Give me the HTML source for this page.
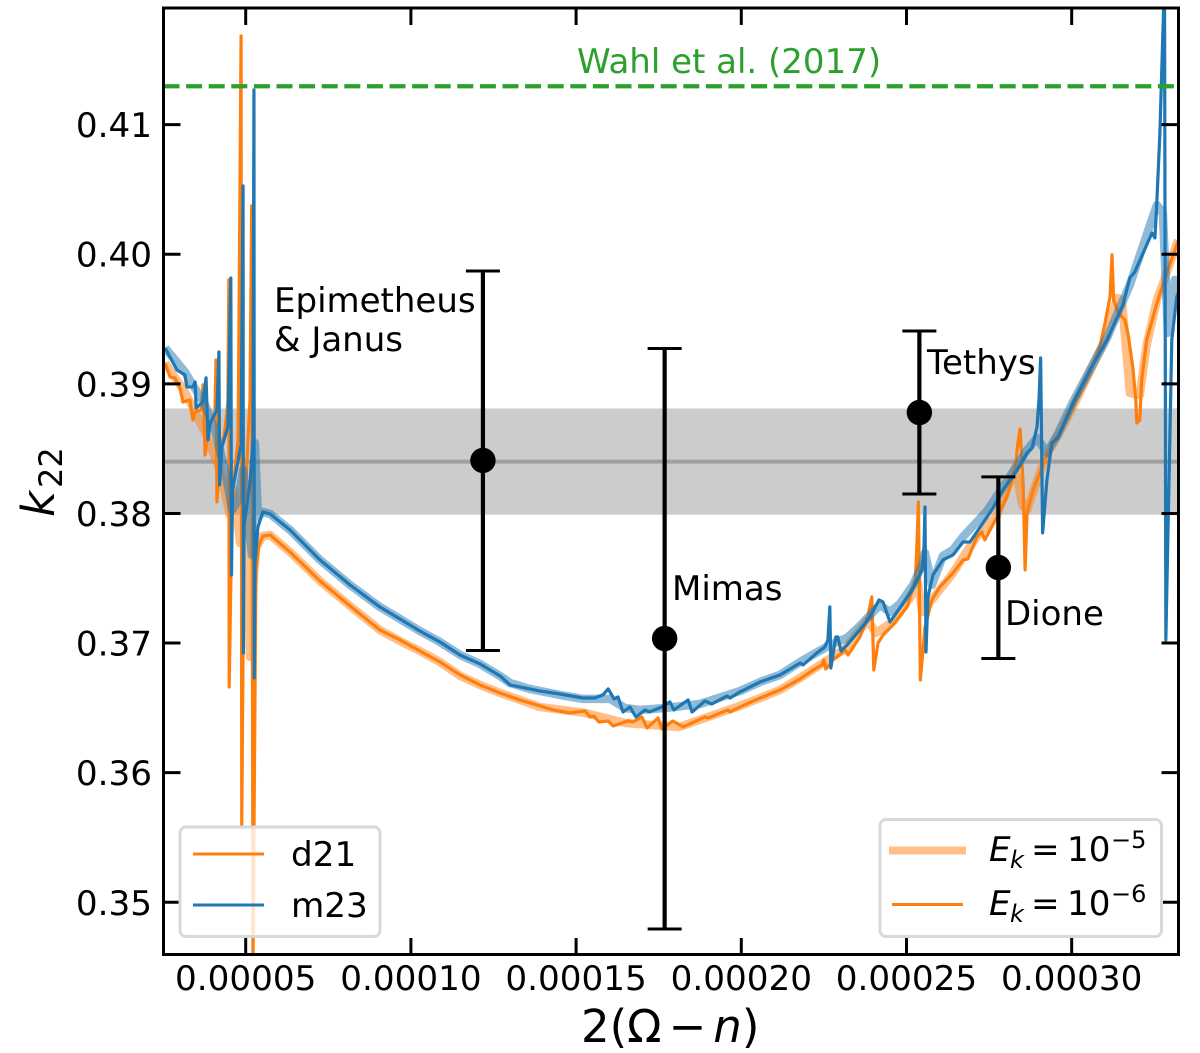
<!DOCTYPE html>
<html lang="en">
<head>
<meta charset="utf-8">
<title>k22 versus 2(Omega - n)</title>
<style>
  html, body { margin: 0; padding: 0; background: #ffffff; }
  #chart-root { width: 1200px; height: 1053px; display: block; }
  text { font-family: "DejaVu Sans", "Liberation Sans", sans-serif; fill: #000; }
</style>
</head>
<body>
<svg id="chart-root" xmlns="http://www.w3.org/2000/svg" width="1200" height="1053" viewBox="0 0 1200 1053">
  <defs>
    <clipPath id="plot-clip"><rect x="163.5" y="8" width="1015" height="946.5"></rect></clipPath>
  </defs>
  <rect x="0" y="0" width="1200" height="1053" fill="#ffffff"></rect>
  <g id="plot-layer" clip-path="url(#plot-clip)"></g>
  <g id="axes-layer"></g>
  <g id="annotation-layer"></g>

  <text x="581" y="1042" font-size="45">2(Ω<tspan dx="7">−</tspan><tspan dx="7" font-style="italic">n</tspan>)</text>
  <g transform="translate(54,517) rotate(-90)">
    <text x="0" y="0" font-size="45" font-style="italic">k</text>
    <text x="29" y="8" font-size="32">22</text>
  </g>

  <g>
    <rect x="180" y="827" width="200" height="109.5" rx="6" ry="6" fill="#ffffff" fill-opacity="0.8" stroke="#d9d9d9" stroke-width="3"></rect>
    <line x1="193" y1="854" x2="264" y2="854" stroke="#ff7f0e" stroke-width="3"></line>
    <text x="291" y="866" font-size="34.2">d21</text>
    <line x1="193" y1="905" x2="264" y2="905" stroke="#1f77b4" stroke-width="3"></line>
    <text x="291" y="917" font-size="34.2">m23</text>
  </g>

  <g>
    <rect x="880" y="819.5" width="281.5" height="117" rx="6" ry="6" fill="#ffffff" fill-opacity="0.8" stroke="#d9d9d9" stroke-width="3"></rect>
    <line x1="889" y1="850.5" x2="966" y2="850.5" stroke="#ff7f0e" stroke-opacity="0.5" stroke-width="8"></line>
    <g>
      <text x="989" y="861" font-size="34.2" font-style="italic">E</text>
      <text x="1010" y="868" font-size="24" font-style="italic">k</text>
      <text x="1031" y="861" font-size="34.2">=</text>
      <text x="1067" y="861" font-size="34.2">10</text>
      <text x="1111" y="848" font-size="24">−5</text>
    </g>
    <line x1="892" y1="904.5" x2="963" y2="904.5" stroke="#ff7f0e" stroke-width="3"></line>
    <g>
      <text x="989" y="915" font-size="34.2" font-style="italic">E</text>
      <text x="1010" y="922" font-size="24" font-style="italic">k</text>
      <text x="1031" y="915" font-size="34.2">=</text>
      <text x="1067" y="915" font-size="34.2">10</text>
      <text x="1111" y="902" font-size="24">−6</text>
    </g>
  </g>
</svg>
<script>
// X values are in units of 1e-5; k22 values are in units of 0.01.
const xTickValues = [5, 10, 15, 20, 25, 30];
const xTickLabels = ["0.00005", "0.00010", "0.00015", "0.00020", "0.00025", "0.00030"];
const yTickValues = [35, 36, 37, 38, 39, 40, 41];
const yTickLabels = ["0.35", "0.36", "0.37", "0.38", "0.39", "0.40", "0.41"];

const m23ThinX = [2.56,2.92,3.16,3.22,3.40,3.47,3.50,3.71,3.80,3.86,3.92,4.13,4.19,4.21,4.28,4.46,4.55,4.57,4.60,4.86,4.92,4.93,4.95,5.13,5.22,5.25,5.26,5.28,5.37,5.52,5.74,
  6.34,7.25,8.16,9.06,9.67,10.27,10.88,11.49,12.09,12.70,13.00,13.60,13.91,14.51,15.21,15.57,15.81,15.97,16.15,16.27,16.42,16.63,16.81,17.09,17.21,17.60,17.84,17.96,18.39,18.51,18.90,19.11,19.57,19.66,19.96,
  20.57,21.17,21.78,21.87,22.29,22.53,22.62,22.68,22.71,22.86,22.92,23.02,23.20,23.59,23.89,24.17,24.29,24.50,24.80,25.20,25.47,25.53,25.56,25.59,25.65,25.80,26.10,26.41,26.71,26.92,27.44,27.62,27.92,28.35,28.65,28.80,28.95,29.01,29.06,29.12,29.25,29.40,29.58,
  30.04,30.55,31.07,31.55,31.76,31.91,32.43,32.52,32.58,32.67,32.76,32.81,32.85,32.91,33.03,33.18,33.30];
const m23ThinY = [39.277,39.107,39.069,38.976,38.976,39.015,38.814,38.860,39.046,38.567,38.698,38.799,39.246,38.220,38.513,38.667,39.817,37.525,38.181,38.529,40.527,36.924,37.911,38.235,38.567,41.268,36.731,37.618,37.896,38.012,37.996,
  37.873,37.641,37.448,37.279,37.186,37.093,37.008,36.908,36.839,36.746,36.677,36.646,36.630,36.607,36.576,36.576,36.600,36.646,36.569,36.584,36.468,36.507,36.430,36.484,36.468,36.507,36.546,36.484,36.561,36.468,36.553,36.530,36.592,36.576,36.623,
  36.700,36.754,36.846,36.831,36.924,36.970,37.024,37.279,36.808,37.047,37.047,36.939,36.985,37.101,37.201,37.333,37.317,37.163,37.271,37.425,37.564,37.742,38.050,36.931,37.356,37.525,37.641,37.680,37.780,37.780,37.973,38.042,38.181,38.336,38.467,38.505,38.667,38.876,39.200,37.850,38.258,38.544,38.583,
  38.853,39.107,39.339,39.609,39.817,39.863,40.164,40.126,40.419,40.936,41.708,42.117,37.024,37.796,39.339,39.671,39.750];

const d21ThinX = [2.56,2.71,2.86,3.01,3.10,3.31,3.40,3.47,3.65,3.71,3.77,3.86,4.07,4.10,4.13,4.22,4.37,4.46,4.49,4.50,4.59,4.77,4.86,4.88,4.95,5.13,5.18,5.22,5.31,5.40,5.52,5.74,
  6.34,7.25,8.16,9.06,9.67,10.27,10.88,11.49,12.09,12.70,13.30,13.91,14.30,14.82,15.27,15.42,15.54,15.69,15.97,16.12,16.57,16.72,16.99,17.15,17.48,17.60,17.93,18.24,18.90,18.99,19.60,19.66,19.96,
  20.57,21.17,21.78,22.17,22.44,22.50,22.56,22.77,23.05,23.14,23.23,23.59,23.83,23.95,24.01,24.14,24.29,24.59,25.02,25.27,25.33,25.36,25.42,25.56,25.77,26.01,26.41,26.71,26.86,27.13,27.28,27.37,27.74,28.04,28.29,28.37,28.44,28.53,28.59,28.65,28.83,29.19,29.43,29.65,
  30.04,30.55,30.85,31.01,31.16,31.22,31.27,31.40,31.61,31.70,31.85,31.94,31.97,32.06,32.12,32.27,32.58,32.91,33.18,33.30];
const d21ThinY = [39.161,39.053,39.046,38.968,38.860,38.876,38.721,38.783,38.799,38.992,38.451,38.644,38.775,39.184,38.089,38.436,38.644,38.853,39.802,36.661,38.104,38.567,41.684,35.573,37.950,38.876,40.373,34.478,37.564,37.757,37.826,37.834,
  37.703,37.479,37.286,37.101,37.024,36.939,36.854,36.754,36.677,36.615,36.561,36.515,36.484,36.461,36.476,36.430,36.437,36.391,36.399,36.360,36.399,36.391,36.430,36.345,36.422,36.337,36.399,36.353,36.430,36.422,36.484,36.468,36.507,
  36.576,36.638,36.723,36.792,36.831,36.870,36.800,36.870,36.924,36.947,36.908,37.047,37.201,37.356,36.792,37.001,37.062,37.140,37.279,37.487,37.850,38.089,36.715,37.124,37.333,37.433,37.541,37.641,37.649,37.819,37.857,37.796,37.973,38.127,38.336,38.544,38.652,38.235,37.564,38.004,38.181,38.413,38.544,38.629,
  38.822,39.084,39.285,39.470,39.671,39.995,39.647,39.555,39.493,39.393,39.130,38.876,38.698,38.721,39.030,39.339,39.624,39.879,40.072,40.150];

const m23ThickX = [2.56,3.16,3.77,4.07,4.37,4.59,4.77,4.92,5.07,5.19,5.28,5.37,5.52,5.74,6.34,7.25,8.16,9.06,9.67,10.27,10.88,11.49,12.09,12.70,13.00,13.60,14.51,15.21,15.73,16.03,16.48,16.93,17.69,18.75,19.96,20.57,21.17,21.78,22.68,23.20,23.59,24.19,24.50,24.80,25.20,25.47,25.56,25.77,26.10,26.41,26.71,27.44,27.92,28.65,28.95,29.25,29.58,30.04,30.55,31.07,31.55,31.76,32.37,32.58,32.76,32.85,32.91,33.12,33.22];
const m23ThickY = [39.277,39.092,38.837,38.644,38.336,38.027,38.104,38.336,37.950,37.680,38.544,37.973,38.012,37.996,37.873,37.641,37.448,37.279,37.186,37.093,37.008,36.908,36.839,36.746,36.692,36.646,36.600,36.569,36.569,36.569,36.499,36.484,36.499,36.530,36.630,36.700,36.754,36.854,36.985,37.040,37.132,37.294,37.240,37.302,37.448,37.603,37.695,37.448,37.672,37.720,37.819,38.020,38.204,38.490,38.583,38.467,38.613,38.860,39.107,39.354,39.640,39.763,40.226,40.380,40.319,39.779,39.393,39.802,39.760];

const d21ThickX = [2.56,3.16,3.77,4.22,4.52,4.64,4.83,4.98,5.13,5.22,5.31,5.52,5.74,6.34,7.25,8.16,9.06,9.67,10.27,10.88,11.49,12.09,12.70,13.91,15.27,16.48,18.12,19.96,20.57,21.17,21.78,22.50,23.14,23.83,24.07,24.59,25.11,25.33,25.47,25.86,26.41,26.71,27.13,27.74,28.29,28.50,28.65,29.19,29.65,30.04,30.55,31.07,31.37,31.52,31.76,32.06,32.27,32.58,32.91,33.22];
const d21ThickY = [39.161,38.938,38.629,38.336,37.988,38.181,37.772,38.143,36.893,37.410,37.734,37.826,37.834,37.703,37.479,37.286,37.101,37.016,36.939,36.854,36.746,36.677,36.615,36.507,36.461,36.383,36.352,36.515,36.576,36.638,36.731,36.850,36.954,37.178,37.078,37.163,37.348,37.487,37.240,37.363,37.541,37.664,37.820,37.988,38.351,38.066,38.027,38.428,38.629,38.822,39.092,39.377,39.663,39.647,38.930,38.914,39.300,39.647,39.880,40.110];

const moonNames = ["epimetheus-janus", "mimas", "tethys", "dione"];
const moonX = [12.18, 17.68, 25.39, 27.78];
const moonK = [38.409, 37.035, 38.779, 37.583];
const moonLow = [36.943, 34.794, 38.150, 36.881];
const moonHigh = [39.871, 39.273, 39.408, 38.282];

const bandLow = 37.99;
const bandCentre = 38.40;
const bandHigh = 38.81;
const wahlValue = 41.296;

const SVG_NS = "http://www.w3.org/2000/svg";
const xMin = 2.512, xMax = 33.233, yMin = 34.597, yMax = 41.900;
const PLOT_LEFT = 163.5, PLOT_RIGHT = 1178.5, PLOT_TOP = 8, PLOT_BOTTOM = 954.5;

function xScale(v) { return PLOT_LEFT + (v - xMin) / (xMax - xMin) * (PLOT_RIGHT - PLOT_LEFT); }
function yScale(v) { return PLOT_BOTTOM - (v - yMin) / (yMax - yMin) * (PLOT_BOTTOM - PLOT_TOP); }

function create(tag, parent) {
  const el = document.createElementNS(SVG_NS, tag);
  parent.appendChild(el);
  return el;
}
function setLine(el, x1, y1, x2, y2, color, width) {
  el.setAttribute("x1", x1);
  el.setAttribute("y1", y1);
  el.setAttribute("x2", x2);
  el.setAttribute("y2", y2);
  el.setAttribute("stroke", color);
  el.setAttribute("stroke-width", width);
}
function pathFrom(xs, ys) {
  return xs.map(function (x, i) {
    return (i ? "L" : "M") + xScale(x).toFixed(2) + " " + yScale(ys[i]).toFixed(2);
  }).join("");
}
function setSeries(el, xs, ys, color, width, opacity) {
  el.setAttribute("d", pathFrom(xs, ys));
  el.setAttribute("fill", "none");
  el.setAttribute("stroke", color);
  el.setAttribute("stroke-width", width);
  el.setAttribute("stroke-opacity", opacity);
  el.setAttribute("stroke-linejoin", "round");
}

const plot = document.getElementById("plot-layer");
const axes = document.getElementById("axes-layer");
const notes = document.getElementById("annotation-layer");

const band = create("rect", plot);


band.setAttribute("x", PLOT_LEFT);
band.setAttribute("y", yScale(bandHigh));
band.setAttribute("width", PLOT_RIGHT - PLOT_LEFT);
band.setAttribute("height", yScale(bandLow) - yScale(bandHigh));
band.setAttribute("fill", "#000000");
band.setAttribute("fill-opacity", "0.2");

const centre = create("line", plot);


setLine(centre, PLOT_LEFT, yScale(bandCentre), PLOT_RIGHT, yScale(bandCentre), "#000000", 4);
centre.setAttribute("stroke-opacity", "0.22");

const d21Thick = create("path", plot);


setSeries(d21Thick, d21ThickX, d21ThickY, "#ff7f0e", 8.5, 0.5);

const d21Thin = create("path", plot);


setSeries(d21Thin, d21ThinX, d21ThinY, "#ff7f0e", 3.2, 1);

const m23Thick = create("path", plot);


setSeries(m23Thick, m23ThickX, m23ThickY, "#1f77b4", 8.5, 0.5);

const m23Thin = create("path", plot);


setSeries(m23Thin, m23ThinX, m23ThinY, "#1f77b4", 3.2, 1);

const wahl = create("line", plot);


setLine(wahl, PLOT_LEFT, yScale(wahlValue), PLOT_RIGHT, yScale(wahlValue), "#2ca02c", 4.2);
wahl.setAttribute("stroke-dasharray", "16 6.6");

moonX.forEach(function (mx, i) {
  const px = xScale(mx);
  const group = create("g", notes);
  
  

  const stem = create("line", group);
  
  
  setLine(stem, px, yScale(moonLow[i]), px, yScale(moonHigh[i]), "#000000", 4.2);

  const capLow = create("line", group);
  
  
  setLine(capLow, px - 17, yScale(moonLow[i]), px + 17, yScale(moonLow[i]), "#000000", 3);

  const capHigh = create("line", group);
  
  
  setLine(capHigh, px - 17, yScale(moonHigh[i]), px + 17, yScale(moonHigh[i]), "#000000", 3);

  const dot = create("circle", group);
  
  
  dot.setAttribute("cx", px);
  dot.setAttribute("cy", yScale(moonK[i]));
  dot.setAttribute("r", 12.7);
  dot.setAttribute("fill", "#000000");
});

function addNote(label, name, x, y, color) {
  const t = create("text", notes);
  
  
  t.setAttribute("x", x);
  t.setAttribute("y", y);
  t.setAttribute("font-size", 34);
  if (color) t.style.fill = color;
  t.textContent = label;
}
addNote("Wahl et al. (2017)", "wahl-2017-label", 577, 73, "#2ca02c");
addNote("Epimetheus", "epimetheus-label", 274, 312);
addNote("& Janus", "janus-label", 274, 351);
addNote("Mimas", "mimas-label", 672, 600);
addNote("Tethys", "tethys-label", 927, 374);
addNote("Dione", "dione-label", 1005, 625);

xTickValues.forEach(function (v, i) {
  const px = xScale(v);
  const bottom = create("line", axes);
  
  
  setLine(bottom, px, PLOT_BOTTOM, px, PLOT_BOTTOM - 16.5, "#000000", 3);

  const top = create("line", axes);
  
  
  setLine(top, px, PLOT_TOP, px, PLOT_TOP + 17, "#000000", 3);

  const label = create("text", axes);
  
  
  label.setAttribute("x", px);
  label.setAttribute("y", 990);
  label.setAttribute("font-size", 34.2);
  label.setAttribute("text-anchor", "middle");
  label.textContent = xTickLabels[i];
});

yTickValues.forEach(function (v, i) {
  const py = yScale(v);
  const left = create("line", axes);
  
  
  setLine(left, PLOT_LEFT, py, PLOT_LEFT + 17, py, "#000000", 3);

  const right = create("line", axes);
  
  
  setLine(right, PLOT_RIGHT, py, PLOT_RIGHT - 17, py, "#000000", 3);

  const label = create("text", axes);
  
  
  label.setAttribute("x", 152);
  label.setAttribute("y", py + 12.5);
  label.setAttribute("font-size", 34.2);
  label.setAttribute("text-anchor", "end");
  label.textContent = yTickLabels[i];
});

const frame = create("rect", axes);


frame.setAttribute("x", PLOT_LEFT);
frame.setAttribute("y", PLOT_TOP);
frame.setAttribute("width", PLOT_RIGHT - PLOT_LEFT);
frame.setAttribute("height", PLOT_BOTTOM - PLOT_TOP);
frame.setAttribute("fill", "none");
frame.setAttribute("stroke", "#000000");
frame.setAttribute("stroke-width", 3);
</script>
</body>
</html>
